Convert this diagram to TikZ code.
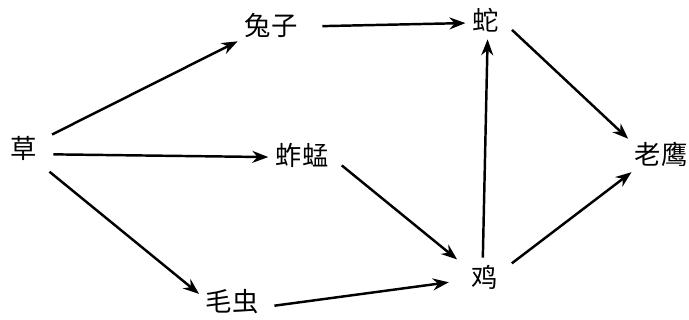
\documentclass[tikz,border=0pt]{standalone}
\usepackage{fontspec}
\newfontfamily\cjk{Noto Sans CJK SC}
\usetikzlibrary{arrows.meta}
\tikzset{
  animal/.style={inner sep=2pt, font=\cjk\fontsize{15}{18}\selectfont, text=black},
  eats/.style={-{Stealth[length=3.2mm,width=2.4mm]}, line width=1.4pt,
               shorten <=7pt, shorten >=2pt},
}

\begin{document}
\begin{tikzpicture}[x=0.02cm, y=-0.02cm]
  \fill[white] (0,0) rectangle (689,320);
  \useasboundingbox (0,0) rectangle (689,320);
  \node[animal] (grass) at (24,148) {草};
  \node[animal] (rabbit) at (271,25) {兔子};
  \node[animal] (hopper) at (302,155) {蚱蜢};
  \node[animal] (worm) at (232,302) {毛虫};
  \node[animal] (snake) at (486,20) {蛇};
  \node[animal] (hen) at (485,277) {鸡};
  \node[animal] (eagle) at (661,154) {老鹰};
  \draw[eats] (grass.25) -- (rabbit.206);
  \draw[eats] (grass.-20) -- (hopper.184);
  \draw[eats] (grass.-45) -- (worm.169);
  \draw[eats, shorten <=12pt] (rabbit.-3) -- (snake.190);
  \draw[eats, shorten >=8pt] (hopper.-5) -- (hen.153);
  \draw[eats, shorten >=11pt] (worm.-10) -- (hen.189);
  \draw[eats, shorten <=2pt] (hen.98) -- (snake.-84);
  \draw[eats] (snake.-5) -- (eagle.157);
  \draw[eats] (hen.20) -- (eagle.211);
\end{tikzpicture}
\end{document}
